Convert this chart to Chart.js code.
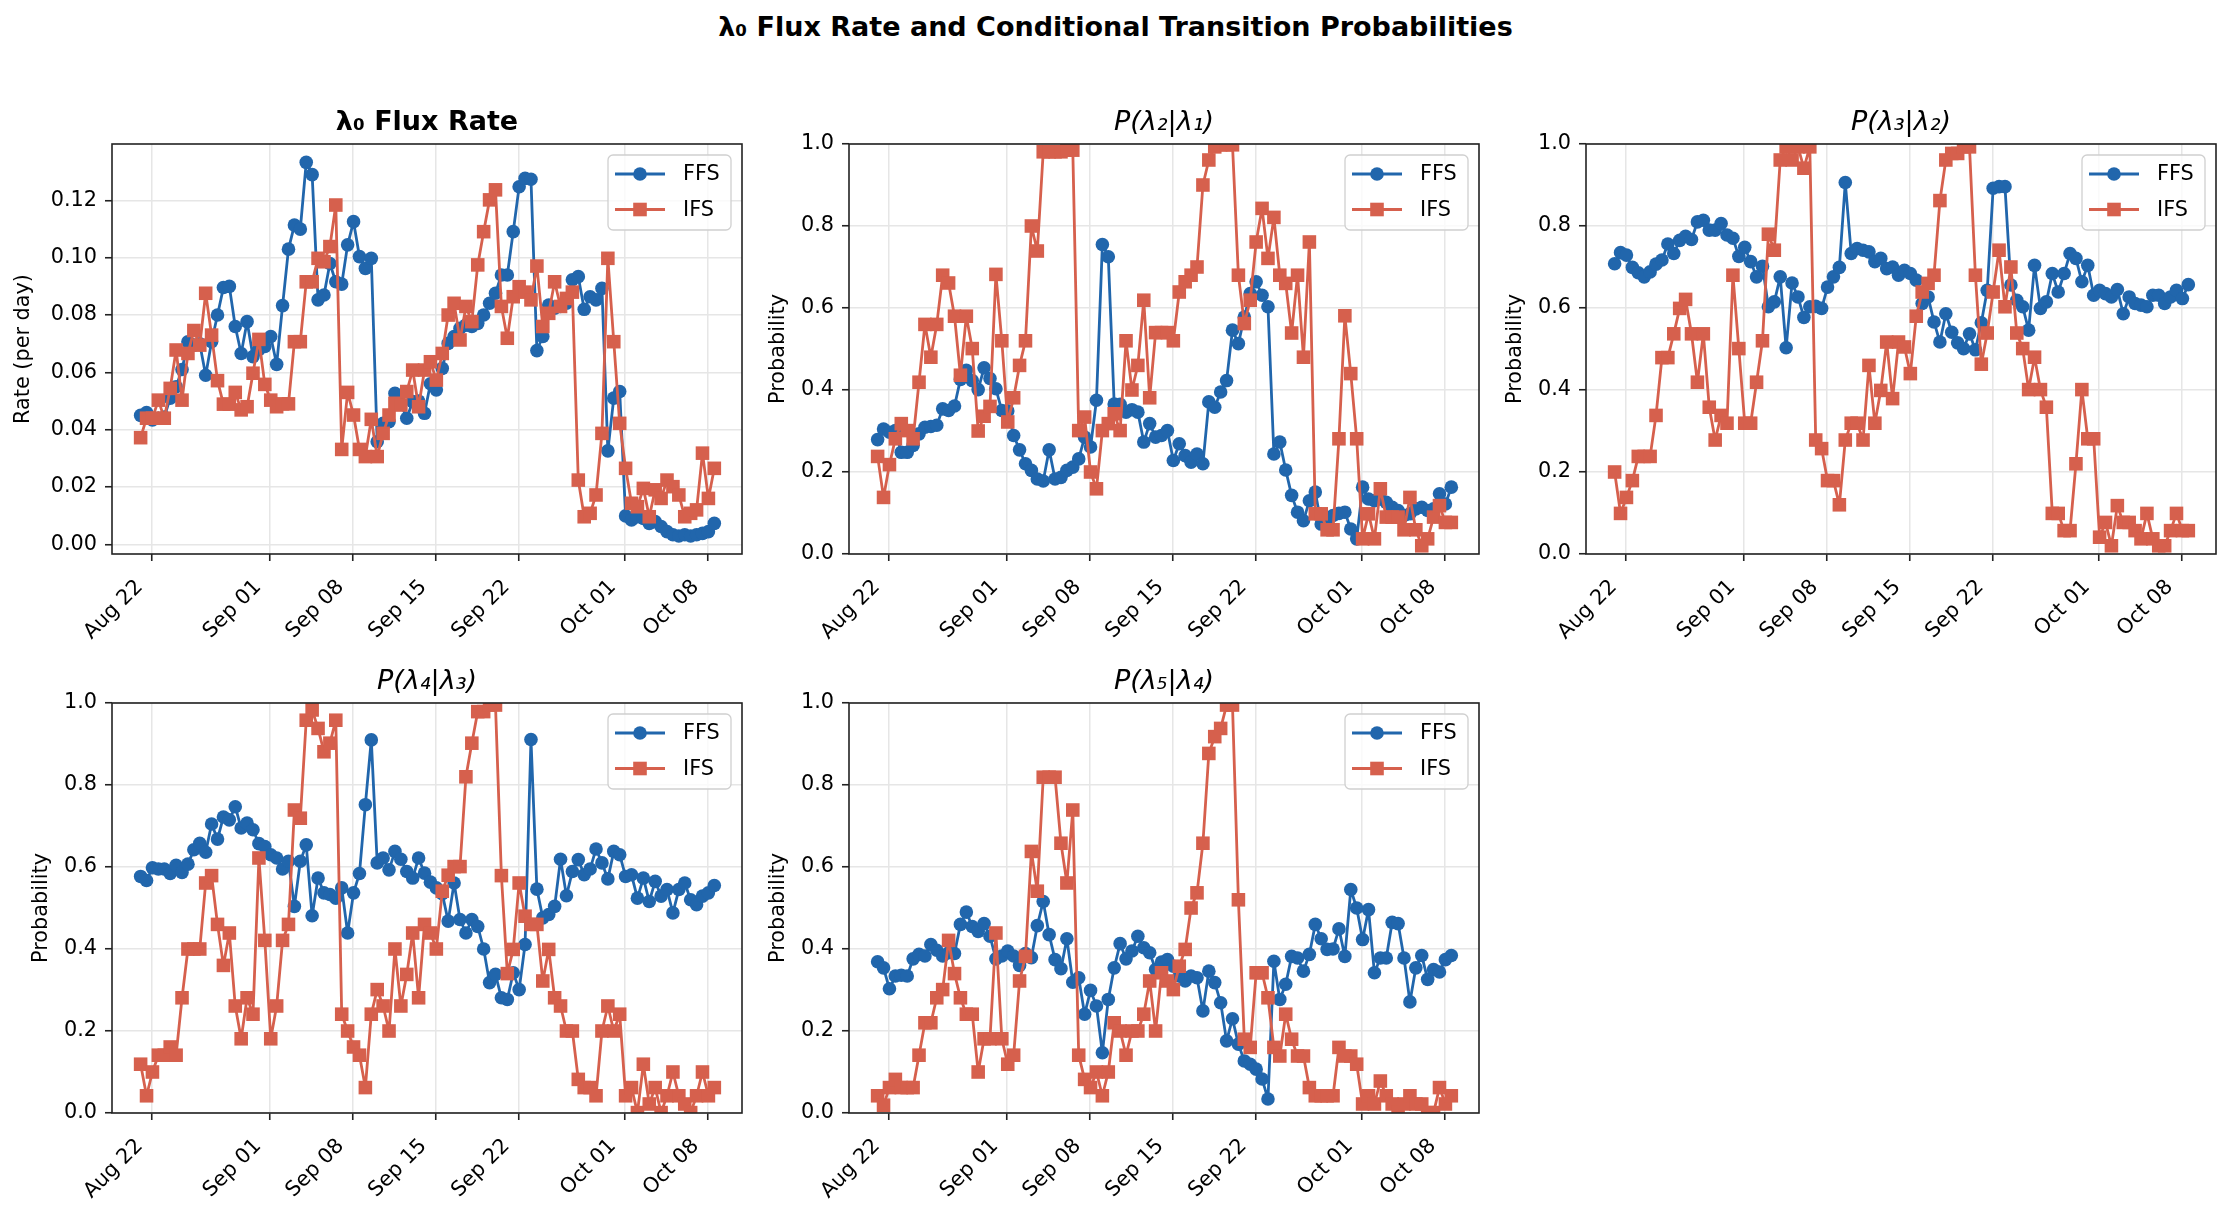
<!DOCTYPE html>
<html>
<head>
<meta charset="utf-8">
<script src="https://cdn.jsdelivr.net/npm/chart.js@4.4.0/dist/chart.umd.min.js"></script>
<style>
  body { margin: 0; background: #fff; width: 2231px; height: 1217px; position: relative; overflow: hidden; }
  #suptitle { position: absolute; left: 0; top: 11px; width: 2231px; text-align: center;
              font: bold 27px 'DejaVu Sans'; line-height: 32px; color: #000; }
  canvas { position: absolute; }
</style>
</head>
<body>
<div id="suptitle">λ₀ Flux Rate and Conditional Transition Probabilities</div>
<script>
'use strict';

// x axis: days counted from Aug 22
const tickDays = [0, 10, 17, 24, 31, 40, 47];
const tickLabels = ['Aug 22', 'Sep 01', 'Sep 08', 'Sep 15', 'Sep 22', 'Oct 01', 'Oct 08'];

// samples are taken every 12 hours, first one on Aug 21 around 01:30
const sampleDays = [];
for (let i = 0; i < 98; i++) {
  sampleDays.push(-0.94 + 0.5 * i);
}

const fluxTicks = [0, 0.02, 0.04, 0.06, 0.08, 0.10, 0.12];
const probTicks = [0, 0.2, 0.4, 0.6, 0.8, 1.0];

const fluxFFS = [0.045, 0.046, 0.0434, 0.044, 0.0444, 0.051, 0.055, 0.061, 0.0707, 0.0695,
  0.070, 0.059, 0.0707, 0.080, 0.0896, 0.090, 0.076, 0.0666, 0.0777, 0.0655,
  0.068, 0.069, 0.0725, 0.0628, 0.0833, 0.103, 0.1114, 0.110, 0.1333, 0.129,
  0.0853, 0.087, 0.098, 0.0916, 0.0908, 0.1045, 0.1126, 0.1004, 0.0963, 0.0998,
  0.0358, 0.0422, 0.0428, 0.0527, 0.049, 0.044, 0.0498, 0.050, 0.0457, 0.056,
  0.0539, 0.0614, 0.0701, 0.0725, 0.0754, 0.0765, 0.076, 0.0771, 0.080, 0.0841,
  0.0876, 0.094, 0.094, 0.1091, 0.1248, 0.1277, 0.1274, 0.0676, 0.0725, 0.0835,
  0.0824, 0.083, 0.0841, 0.0923, 0.0934, 0.082, 0.0864, 0.0853, 0.0893, 0.0326,
  0.051, 0.0533, 0.0099, 0.0085, 0.0096, 0.009, 0.0073, 0.0079, 0.0062, 0.0044,
  0.0033, 0.0029, 0.0033, 0.0029, 0.0033, 0.0038, 0.0044, 0.0073];
const fluxIFS = [0.0372, 0.044, 0.044, 0.0503, 0.044, 0.0544, 0.0678, 0.0503, 0.0666, 0.0746,
  0.0695, 0.0876, 0.073, 0.0571, 0.0489, 0.0489, 0.053, 0.0469, 0.048, 0.0597,
  0.0715, 0.0558, 0.0503, 0.048, 0.049, 0.049, 0.0707, 0.0707, 0.0916, 0.0916,
  0.0998, 0.0986, 0.1039, 0.1184, 0.0331, 0.053, 0.0451, 0.0331, 0.0306, 0.0436,
  0.0306, 0.0387, 0.0451, 0.0492, 0.0486, 0.0533, 0.0608, 0.048, 0.0608, 0.0637,
  0.0573, 0.0666, 0.080, 0.0841, 0.0713, 0.083, 0.0777, 0.0975, 0.1091, 0.1202,
  0.1237, 0.083, 0.0719, 0.0864, 0.0899, 0.088, 0.0853, 0.0971, 0.076, 0.0806,
  0.0916, 0.083, 0.0858, 0.088, 0.0224, 0.0096, 0.0108, 0.0172, 0.0387, 0.0998,
  0.0707, 0.0422, 0.0265, 0.0143, 0.0131, 0.0195, 0.0096, 0.019, 0.016, 0.0224,
  0.0201, 0.0172, 0.0096, 0.0108, 0.012, 0.0318, 0.016, 0.0265];

const p21FFS = [0.279, 0.305, 0.297, 0.301, 0.248, 0.248, 0.265, 0.293, 0.309, 0.311,
  0.314, 0.354, 0.350, 0.361, 0.426, 0.448, 0.423, 0.401, 0.454, 0.428,
  0.403, 0.350, 0.349, 0.289, 0.254, 0.220, 0.204, 0.183, 0.178, 0.254,
  0.183, 0.187, 0.204, 0.212, 0.232, 0.285, 0.261, 0.375, 0.755, 0.725,
  0.366, 0.365, 0.346, 0.352, 0.346, 0.273, 0.318, 0.285, 0.289, 0.301,
  0.228, 0.269, 0.240, 0.224, 0.244, 0.220, 0.371, 0.358, 0.395, 0.423,
  0.546, 0.513, 0.578, 0.635, 0.664, 0.631, 0.603, 0.244, 0.273, 0.205,
  0.143, 0.102, 0.081, 0.130, 0.151, 0.073, 0.085, 0.094, 0.099, 0.102,
  0.061, 0.037, 0.163, 0.134, 0.130, 0.134, 0.126, 0.114, 0.106, 0.094,
  0.098, 0.110, 0.114, 0.106, 0.110, 0.147, 0.122, 0.163];
const p21IFS = [0.238, 0.138, 0.218, 0.281, 0.318, 0.301, 0.281, 0.419, 0.560, 0.480,
  0.560, 0.680, 0.661, 0.580, 0.436, 0.580, 0.501, 0.300, 0.336, 0.360,
  0.682, 0.520, 0.322, 0.381, 0.460, 0.520, 0.800, 0.739, 0.981, 0.981,
  0.981, 0.981, 0.985, 0.985, 0.301, 0.334, 0.200, 0.159, 0.301, 0.318,
  0.342, 0.301, 0.520, 0.400, 0.460, 0.619, 0.381, 0.540, 0.540, 0.540,
  0.520, 0.639, 0.664, 0.680, 0.700, 0.900, 0.961, 0.993, 0.998, 0.998,
  0.998, 0.680, 0.562, 0.619, 0.761, 0.843, 0.721, 0.821, 0.680, 0.660,
  0.539, 0.680, 0.480, 0.761, 0.098, 0.098, 0.059, 0.059, 0.281, 0.581,
  0.440, 0.281, 0.037, 0.098, 0.037, 0.159, 0.090, 0.090, 0.090, 0.059,
  0.138, 0.059, 0.020, 0.037, 0.090, 0.118, 0.077, 0.077];

const p32FFS = [0.708, 0.735, 0.729, 0.699, 0.686, 0.676, 0.688, 0.707, 0.717, 0.756,
  0.733, 0.765, 0.775, 0.767, 0.810, 0.814, 0.790, 0.790, 0.806, 0.778,
  0.770, 0.726, 0.748, 0.713, 0.676, 0.702, 0.603, 0.615, 0.676, 0.503,
  0.661, 0.627, 0.577, 0.603, 0.604, 0.599, 0.651, 0.676, 0.699, 0.906,
  0.733, 0.745, 0.741, 0.737, 0.713, 0.721, 0.696, 0.700, 0.680, 0.692,
  0.684, 0.668, 0.611, 0.627, 0.566, 0.517, 0.586, 0.541, 0.515, 0.501,
  0.537, 0.498, 0.564, 0.643, 0.892, 0.896, 0.896, 0.656, 0.619, 0.603,
  0.546, 0.704, 0.599, 0.615, 0.684, 0.639, 0.684, 0.733, 0.721, 0.664,
  0.704, 0.631, 0.643, 0.635, 0.627, 0.645, 0.586, 0.627, 0.611, 0.607,
  0.603, 0.631, 0.631, 0.611, 0.627, 0.643, 0.623, 0.657];
const p32IFS = [0.200, 0.099, 0.138, 0.179, 0.238, 0.238, 0.238, 0.338, 0.479, 0.479,
  0.537, 0.599, 0.621, 0.537, 0.419, 0.537, 0.358, 0.278, 0.338, 0.319,
  0.680, 0.501, 0.319, 0.319, 0.419, 0.520, 0.780, 0.741, 0.961, 0.993,
  0.961, 0.993, 0.941, 0.993, 0.278, 0.257, 0.179, 0.179, 0.120, 0.278,
  0.319, 0.319, 0.278, 0.460, 0.319, 0.399, 0.517, 0.379, 0.517, 0.505,
  0.440, 0.580, 0.639, 0.660, 0.680, 0.862, 0.961, 0.977, 0.977, 0.993,
  0.993, 0.680, 0.463, 0.539, 0.639, 0.741, 0.603, 0.700, 0.539, 0.501,
  0.401, 0.480, 0.401, 0.358, 0.099, 0.099, 0.057, 0.057, 0.220, 0.401,
  0.281, 0.281, 0.041, 0.077, 0.020, 0.118, 0.077, 0.077, 0.057, 0.037,
  0.099, 0.037, 0.020, 0.020, 0.057, 0.099, 0.057, 0.057];

const p43FFS = [0.577, 0.567, 0.598, 0.595, 0.595, 0.584, 0.604, 0.587, 0.607, 0.642,
  0.658, 0.636, 0.705, 0.668, 0.722, 0.715, 0.747, 0.695, 0.707, 0.691,
  0.657, 0.650, 0.630, 0.622, 0.595, 0.614, 0.504, 0.614, 0.654, 0.481,
  0.573, 0.537, 0.533, 0.524, 0.549, 0.439, 0.537, 0.584, 0.752, 0.910,
  0.610, 0.622, 0.593, 0.638, 0.619, 0.589, 0.573, 0.622, 0.585, 0.563,
  0.549, 0.535, 0.468, 0.561, 0.472, 0.439, 0.472, 0.455, 0.400, 0.318,
  0.338, 0.281, 0.277, 0.342, 0.301, 0.411, 0.911, 0.546, 0.476, 0.484,
  0.504, 0.619, 0.530, 0.589, 0.618, 0.581, 0.595, 0.644, 0.610, 0.571,
  0.638, 0.630, 0.577, 0.581, 0.524, 0.573, 0.516, 0.565, 0.529, 0.545,
  0.488, 0.545, 0.561, 0.520, 0.508, 0.529, 0.537, 0.555];
const p43IFS = [0.119, 0.042, 0.100, 0.141, 0.141, 0.161, 0.141, 0.281, 0.400, 0.400,
  0.400, 0.561, 0.579, 0.460, 0.360, 0.439, 0.261, 0.181, 0.281, 0.241,
  0.622, 0.421, 0.181, 0.261, 0.421, 0.460, 0.739, 0.719, 0.958, 0.983,
  0.938, 0.881, 0.902, 0.958, 0.241, 0.200, 0.161, 0.141, 0.062, 0.241,
  0.301, 0.261, 0.200, 0.400, 0.261, 0.338, 0.439, 0.281, 0.460, 0.439,
  0.400, 0.541, 0.580, 0.601, 0.601, 0.820, 0.902, 0.979, 0.979, 0.995,
  0.995, 0.579, 0.340, 0.399, 0.561, 0.480, 0.460, 0.460, 0.322, 0.399,
  0.281, 0.261, 0.200, 0.200, 0.082, 0.062, 0.062, 0.042, 0.200, 0.261,
  0.200, 0.241, 0.042, 0.062, 0.001, 0.119, 0.022, 0.062, 0.001, 0.042,
  0.100, 0.042, 0.022, 0.001, 0.042, 0.100, 0.042, 0.062];

const p54FFS = [0.369, 0.354, 0.303, 0.334, 0.336, 0.334, 0.376, 0.387, 0.383, 0.411,
  0.397, 0.383, 0.391, 0.389, 0.460, 0.490, 0.455, 0.443, 0.462, 0.431,
  0.376, 0.383, 0.395, 0.383, 0.360, 0.389, 0.379, 0.457, 0.516, 0.435,
  0.374, 0.352, 0.425, 0.319, 0.330, 0.241, 0.299, 0.261, 0.147, 0.277,
  0.354, 0.413, 0.376, 0.395, 0.431, 0.403, 0.391, 0.350, 0.368, 0.374,
  0.358, 0.334, 0.322, 0.334, 0.330, 0.249, 0.346, 0.318, 0.269, 0.176,
  0.230, 0.168, 0.127, 0.119, 0.107, 0.083, 0.034, 0.370, 0.277, 0.314,
  0.382, 0.378, 0.346, 0.387, 0.460, 0.425, 0.399, 0.400, 0.449, 0.382,
  0.545, 0.500, 0.423, 0.496, 0.342, 0.378, 0.378, 0.465, 0.462, 0.378,
  0.271, 0.354, 0.384, 0.326, 0.350, 0.344, 0.374, 0.384];
const p54IFS = [0.042, 0.019, 0.062, 0.082, 0.062, 0.062, 0.062, 0.141, 0.220, 0.220,
  0.281, 0.301, 0.421, 0.340, 0.281, 0.241, 0.241, 0.100, 0.181, 0.181,
  0.439, 0.181, 0.119, 0.141, 0.322, 0.382, 0.638, 0.541, 0.819, 0.819,
  0.819, 0.658, 0.561, 0.739, 0.141, 0.082, 0.062, 0.100, 0.042, 0.100,
  0.220, 0.200, 0.141, 0.200, 0.200, 0.241, 0.322, 0.200, 0.342, 0.322,
  0.301, 0.358, 0.399, 0.500, 0.537, 0.658, 0.877, 0.918, 0.938, 0.995,
  0.995, 0.520, 0.180, 0.160, 0.342, 0.342, 0.281, 0.160, 0.139, 0.241,
  0.180, 0.139, 0.139, 0.062, 0.042, 0.042, 0.042, 0.042, 0.160, 0.139,
  0.139, 0.119, 0.022, 0.042, 0.022, 0.078, 0.042, 0.022, 0.001, 0.022,
  0.042, 0.022, 0.022, 0.001, 0.001, 0.062, 0.022, 0.042];

const BLUE = '#2166ac';
const RED = '#d6604d';

Chart.defaults.font.family = "'DejaVu Sans'";
Chart.defaults.color = '#000';

// axes box size in px, and room around it inside each canvas
const AX_W = 630, AX_H = 410;
const LEFT_ROOM = 110, RIGHT_ROOM = 20, TITLE_ROOM = 44, BOTTOM_ROOM = 120;

const panels = [
  { left: 112, top: 144, title: 'λ₀ Flux Rate', bold: true, yLabel: 'Rate (per day)', labelGap: 88,
    ffs: fluxFFS, ifs: fluxIFS, yMin: -0.0034, yMax: 0.1397, yTicks: fluxTicks, dec: 2 },
  { left: 849, top: 144, title: 'P(λ₂|λ₁)', bold: false, yLabel: 'Probability', labelGap: 70,
    ffs: p21FFS, ifs: p21IFS, yMin: 0, yMax: 1, yTicks: probTicks, dec: 1 },
  { left: 1586, top: 144, title: 'P(λ₃|λ₂)', bold: false, yLabel: 'Probability', labelGap: 70,
    ffs: p32FFS, ifs: p32IFS, yMin: 0, yMax: 1, yTicks: probTicks, dec: 1 },
  { left: 112, top: 703, title: 'P(λ₄|λ₃)', bold: false, yLabel: 'Probability', labelGap: 70,
    ffs: p43FFS, ifs: p43IFS, yMin: 0, yMax: 1, yTicks: probTicks, dec: 1 },
  { left: 849, top: 703, title: 'P(λ₅|λ₄)', bold: false, yLabel: 'Probability', labelGap: 70,
    ffs: p54FFS, ifs: p54IFS, yMin: 0, yMax: 1, yTicks: probTicks, dec: 1 }
];

// spines + matplotlib-like legend in the upper right corner
const framePlugin = {
  id: 'frame',
  afterDraw(chart) {
    const ctx = chart.ctx;
    const a = chart.chartArea;
    ctx.save();
    ctx.strokeStyle = '#222';
    ctx.lineWidth = 1.6;
    ctx.strokeRect(a.left, a.top, a.right - a.left, a.bottom - a.top);

    const bx = a.right - 134, by = a.top + 11, bw = 123, bh = 75, r = 5;
    ctx.beginPath();
    ctx.moveTo(bx + r, by);
    ctx.arcTo(bx + bw, by, bx + bw, by + bh, r);
    ctx.arcTo(bx + bw, by + bh, bx, by + bh, r);
    ctx.arcTo(bx, by + bh, bx, by, r);
    ctx.arcTo(bx, by, bx + bw, by, r);
    ctx.closePath();
    ctx.fillStyle = 'rgba(255,255,255,0.8)';
    ctx.fill();
    ctx.strokeStyle = '#d0d0d0';
    ctx.lineWidth = 1.3;
    ctx.stroke();

    chart.data.datasets.forEach((ds, i) => {
      const y = a.top + 30 + 35.5 * i;
      ctx.strokeStyle = ds.borderColor;
      ctx.lineWidth = 2.8;
      ctx.beginPath();
      ctx.moveTo(a.right - 127, y);
      ctx.lineTo(a.right - 77, y);
      ctx.stroke();
      ctx.fillStyle = ds.borderColor;
      if (ds.pointStyle === 'rect') {
        ctx.fillRect(a.right - 102 - 6.8, y - 6.8, 13.6, 13.6);
      } else {
        ctx.beginPath();
        ctx.arc(a.right - 102, y, 6.8, 0, Math.PI * 2);
        ctx.fill();
      }
      ctx.fillStyle = '#000';
      ctx.font = "20.8px 'DejaVu Sans'";
      ctx.textBaseline = 'middle';
      ctx.textAlign = 'left';
      ctx.fillText(ds.label, a.right - 59, y + 1);
    });
    ctx.restore();
  }
};

function makeChart(p) {
  const cv = document.createElement('canvas');
  const w = LEFT_ROOM + AX_W + RIGHT_ROOM;
  const h = TITLE_ROOM + AX_H + BOTTOM_ROOM;
  cv.width = w;
  cv.height = h;
  cv.style.width = w + 'px';
  cv.style.height = h + 'px';
  cv.style.left = (p.left - LEFT_ROOM) + 'px';
  cv.style.top = (p.top - TITLE_ROOM) + 'px';
  document.body.appendChild(cv);

  const gridColor = '#e6e6e6';

  new Chart(cv, {
    type: 'line',
    data: {
      datasets: [
        {
          label: 'FFS',
          data: p.ffs.map((v, i) => ({ x: sampleDays[i], y: v })),
          borderColor: BLUE,
          backgroundColor: BLUE,
          borderWidth: 2.8,
          borderJoinStyle: 'round',
          pointStyle: 'circle',
          pointRadius: 6.8,
          pointBorderWidth: 0,
          tension: 0,
          order: 1
        },
        {
          label: 'IFS',
          data: p.ifs.map((v, i) => ({ x: sampleDays[i], y: v })),
          borderColor: RED,
          backgroundColor: RED,
          borderWidth: 2.8,
          borderJoinStyle: 'round',
          pointStyle: 'rect',
          pointRadius: 9.6,
          pointBorderWidth: 0,
          tension: 0,
          order: 0
        }
      ]
    },
    options: {
      responsive: false,
      animation: false,
      devicePixelRatio: 1,
      layout: { padding: { left: 0, right: RIGHT_ROOM, top: 0, bottom: 0 } },
      plugins: {
        legend: { display: false },
        tooltip: { enabled: false },
        title: {
          display: true,
          text: p.title,
          fullSize: false,
          color: '#000',
          padding: { top: 6.6, bottom: 5 },
          font: { size: 27, weight: p.bold ? 'bold' : 'normal', style: p.bold ? 'normal' : 'italic' }
        }
      },
      scales: {
        x: {
          type: 'linear',
          min: -3.36,
          max: 49.9,
          afterBuildTicks: (s) => { s.ticks = tickDays.map(v => ({ value: v })); },
          afterFit: (s) => { s.height = BOTTOM_ROOM; },
          ticks: {
            autoSkip: false,
            minRotation: 45,
            maxRotation: 45,
            padding: 14,
            labelOffset: -12,
            color: '#000',
            font: { size: 20.8 },
            callback: (v) => tickLabels[tickDays.indexOf(v)]
          },
          grid: { color: gridColor, lineWidth: 1.5, tickColor: '#222', tickLength: 7, tickWidth: 1.6 },
          border: { display: false }
        },
        y: {
          min: p.yMin,
          max: p.yMax,
          afterBuildTicks: (s) => { s.ticks = p.yTicks.map(v => ({ value: v })); },
          afterFit: (s) => { s.width = LEFT_ROOM; },
          ticks: {
            padding: 8,
            color: '#000',
            font: { size: 20.8 },
            callback: (v) => v.toFixed(p.dec)
          },
          title: {
            display: true,
            text: p.yLabel,
            color: '#000',
            font: { size: 20.8 },
            padding: { top: LEFT_ROOM - p.labelGap - 12.5, bottom: 0 }
          },
          grid: { color: gridColor, lineWidth: 1.5, tickColor: '#222', tickLength: 7, tickWidth: 1.6 },
          border: { display: false }
        }
      }
    },
    plugins: [framePlugin]
  });
}

panels.forEach(makeChart);
</script>
</body>
</html>
